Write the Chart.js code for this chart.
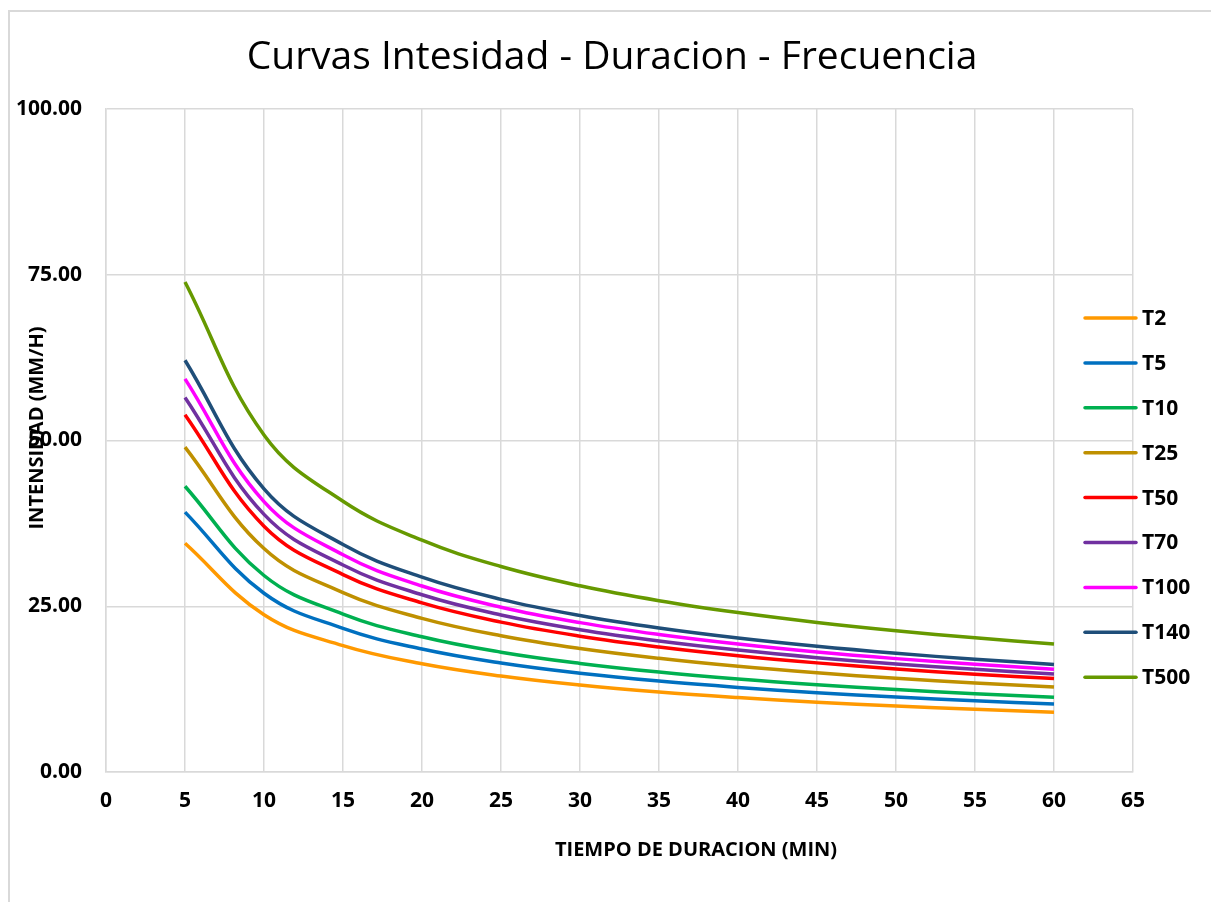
<!DOCTYPE html>
<html>
<head>
<meta charset="utf-8">
<title>Curvas IDF</title>
<script src="https://cdn.jsdelivr.net/npm/chart.js@4.4.1/dist/chart.umd.min.js"></script>
<style>
  html, body { margin: 0; padding: 0; background: #ffffff; }
  #wrap { position: relative; width: 1211px; height: 902px; }
</style>
</head>
<body>
<div id="wrap"><canvas id="chart-idf" width="1211" height="902"></canvas></div>
<script>
// Tiempo de duracion (min)
const durations = [5, 10, 15, 20, 25, 30, 35, 40, 45, 50, 55, 60];

// Intensidad (mm/h) por periodo de retorno
const t2   = [34.50, 23.73, 19.06, 16.32, 14.47, 13.11, 12.06, 11.23, 10.53, 9.95, 9.45, 9.02];
const t5   = [39.20, 26.96, 21.66, 18.55, 16.44, 14.90, 13.71, 12.76, 11.97, 11.31, 10.74, 10.25];
const t10  = [43.10, 29.64, 23.81, 20.39, 18.07, 16.38, 15.07, 14.02, 13.16, 12.43, 11.81, 11.27];
const t25  = [49.00, 33.70, 27.07, 23.18, 20.55, 18.62, 17.14, 15.94, 14.96, 14.13, 13.42, 12.81];
const t50  = [53.90, 37.07, 29.78, 25.50, 22.60, 20.48, 18.85, 17.54, 16.46, 15.54, 14.76, 14.09];
const t70  = [56.50, 38.86, 31.22, 26.73, 23.69, 21.47, 19.76, 18.39, 17.25, 16.29, 15.48, 14.77];
const t100 = [59.30, 40.79, 32.76, 28.05, 24.86, 22.53, 20.74, 19.30, 18.10, 17.10, 16.24, 15.50];
const t140 = [62.10, 42.71, 34.31, 29.38, 26.04, 23.60, 21.72, 20.21, 18.96, 17.91, 17.01, 16.23];
const t500 = [73.90, 50.83, 40.83, 34.96, 30.99, 28.08, 25.84, 24.05, 22.56, 21.31, 20.24, 19.32];

const seriesLabels = ['T2', 'T5', 'T10', 'T25', 'T50', 'T70', 'T100', 'T140', 'T500'];
const seriesValues = [t2, t5, t10, t25, t50, t70, t100, t140, t500];
const seriesColors = ['#ff9900', '#0070c0', '#00b050', '#bf9000', '#ff0000', '#7030a0', '#ff00ff', '#1f4e79', '#669900'];

const chartTitle = 'Curvas Intesidad - Duracion - Frecuencia';
const xTitle = 'TIEMPO DE DURACION (MIN)';
const yTitle = 'INTENSIDAD (MM/H)';

const FONT = '"Open Sans", "Liberation Sans", sans-serif';
const GRID = '#d9d9d9';

// ─── Frame, titles and legend (drawn over the canvas like the Excel chart) ───
const decorPlugin = {
    id: 'decor',
    beforeDraw(chart) {
        const ctx = chart.ctx;
        ctx.save();
        ctx.fillStyle = '#ffffff';
        ctx.fillRect(0, 0, chart.width, chart.height);
        // outer chart border (only left and top edges visible)
        ctx.strokeStyle = GRID;
        ctx.lineWidth = 2;
        ctx.beginPath();
        ctx.moveTo(9, chart.height);
        ctx.lineTo(9, 11);
        ctx.lineTo(chart.width, 11);
        ctx.stroke();
        ctx.restore();
    },
    afterDraw(chart) {
        const ctx = chart.ctx;
        ctx.save();
        ctx.fillStyle = '#000000';
        ctx.textAlign = 'center';
        ctx.textBaseline = 'middle';

        ctx.font = `39px ${FONT}`;
        ctx.fillText(chartTitle, 612, 58);

        ctx.font = `bold 20px ${FONT}`;
        ctx.fillText(xTitle, 696, 850);

        ctx.save();
        ctx.translate(37, 428);
        ctx.rotate(-Math.PI / 2);
        ctx.fillText(yTitle, 0, 0);
        ctx.restore();

        // legend
        ctx.textAlign = 'left';
        ctx.font = `bold 21px ${FONT}`;
        chart.data.datasets.forEach((ds, i) => {
            const y = 318 + i * 44.9;
            ctx.strokeStyle = ds.borderColor;
            ctx.lineWidth = 3.5;
            ctx.lineCap = 'round';
            ctx.beginPath();
            ctx.moveTo(1085, y);
            ctx.lineTo(1136, y);
            ctx.stroke();
            ctx.fillStyle = '#000000';
            ctx.fillText(ds.label, 1142, y + 1);
        });
        ctx.restore();
    }
};

const datasets = seriesLabels.map((label, i) => ({
    label,
    data: durations.map((t, k) => ({ x: t, y: seriesValues[i][k] })),
    borderColor: seriesColors[i],
    backgroundColor: seriesColors[i],
    borderWidth: 3.5,
    pointRadius: 0,
    tension: 0.4,
    fill: false
}));

new Chart(document.getElementById('chart-idf'), {
    type: 'line',
    data: { datasets },
    plugins: [decorPlugin],
    options: {
        responsive: false,
        animation: false,
        layout: { padding: { top: 109, right: 78, bottom: 0, left: 0 } },
        plugins: {
            legend: { display: false },
            title: { display: false },
            tooltip: { enabled: false }
        },
        scales: {
            x: {
                type: 'linear',
                min: 0, max: 65,
                afterFit: s => { s.height = 130; },
                border: { color: GRID, width: 1.5 },
                grid: { color: GRID, lineWidth: 1.5, drawTicks: false },
                ticks: {
                    stepSize: 5,
                    padding: 16,
                    color: '#000000',
                    font: { family: FONT, size: 21, weight: 'bold' }
                }
            },
            y: {
                min: 0, max: 100,
                afterFit: s => { s.width = 106; },
                border: { color: GRID, width: 1.5 },
                grid: { color: GRID, lineWidth: 1.5, drawTicks: false },
                ticks: {
                    stepSize: 25,
                    padding: 24,
                    color: '#000000',
                    font: { family: FONT, size: 21, weight: 'bold' },
                    callback: v => v.toFixed(2)
                }
            }
        }
    }
});
</script>
</body>
</html>
